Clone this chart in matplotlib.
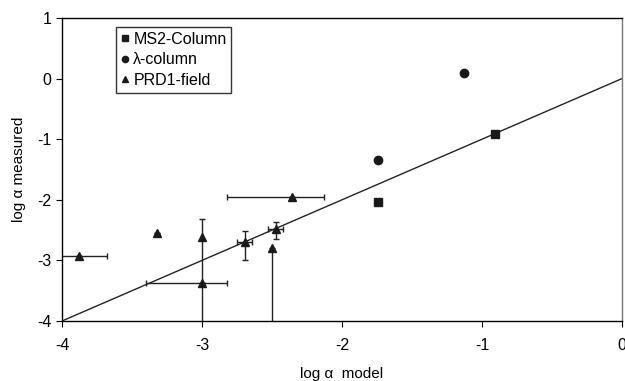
import matplotlib.pyplot as plt

plt.rcParams['font.family'] = ['Liberation Sans', 'DejaVu Sans']
plt.rcParams['axes.unicode_minus'] = False

# MS2-Column
ms2_x = [-1.74, -0.91]
ms2_y = [-2.04, -0.91]

# lambda-column
lam_x = [-1.13, -1.74]
lam_y = [0.10, -1.34]

# PRD1-field with error bars (lower/upper)
prd_x = [-3.88, -3.32, -3.00, -3.00, -2.69, -2.47, -2.50, -2.355]
prd_y = [-2.92, -2.54, -2.62, -3.37, -2.70, -2.49, -2.79, -1.95]
prd_xlo = [0.15, 0, 0, 0.40, 0.06, 0.06, 0, 0.47]
prd_xhi = [0.20, 0, 0, 0.18, 0.05, 0.05, 0, 0.225]
prd_ylo = [0, 0, 1.6, 0, 0.29, 0.16, 1.4, 0]
prd_yhi = [0, 0, 0.31, 0, 0.19, 0.12, 0, 0]

line_x = [-4, 0]
line_y = [-4, 0]

fig = plt.figure(figsize=(6.25, 3.81), dpi=100)
ax = fig.add_axes([62/625, 1-321/381, 560/625, 303/381])

ax.plot(line_x, line_y, color='#222222', lw=1)

ax.errorbar(prd_x, prd_y, xerr=[prd_xlo, prd_xhi], yerr=[prd_ylo, prd_yhi],
            fmt='none', ecolor='#222222', elinewidth=1, capsize=2, capthick=1)
ax.plot(ms2_x, ms2_y, 's', color='#1a1a1a', ms=6, label='MS2-Column')
ax.plot(lam_x, lam_y, 'o', color='#1a1a1a', ms=6, label='λ-column')
ax.plot(prd_x, prd_y, '^', color='#1a1a1a', ms=6, label='PRD1-field')

ax.set_xlim(-4, 0)
ax.set_ylim(-4, 1)
ax.set_xticks([-4, -3, -2, -1, 0])
ax.set_yticks([-4, -3, -2, -1, 0, 1])
ax.tick_params(direction='out', length=4, labelsize=11.5)
ax.tick_params(axis='x', pad=8)
for s in ax.spines.values():
    s.set_linewidth(1)
ax.spines['right'].set_color('#777777')

ax.set_xlabel('log α  model', fontsize=11, labelpad=10)
ax.set_ylabel('log α measured', fontsize=11, labelpad=8)

leg = ax.legend(loc='upper left', bbox_to_anchor=(0.096, 0.97), fontsize=11.5,
                frameon=True, fancybox=False, edgecolor='black',
                handlelength=0.5, handletextpad=0.3, borderpad=0.3,
                labelspacing=0.35, markerscale=0.75, borderaxespad=0)
leg.get_frame().set_linewidth(1)

fig.savefig('out.png', dpi=100)
